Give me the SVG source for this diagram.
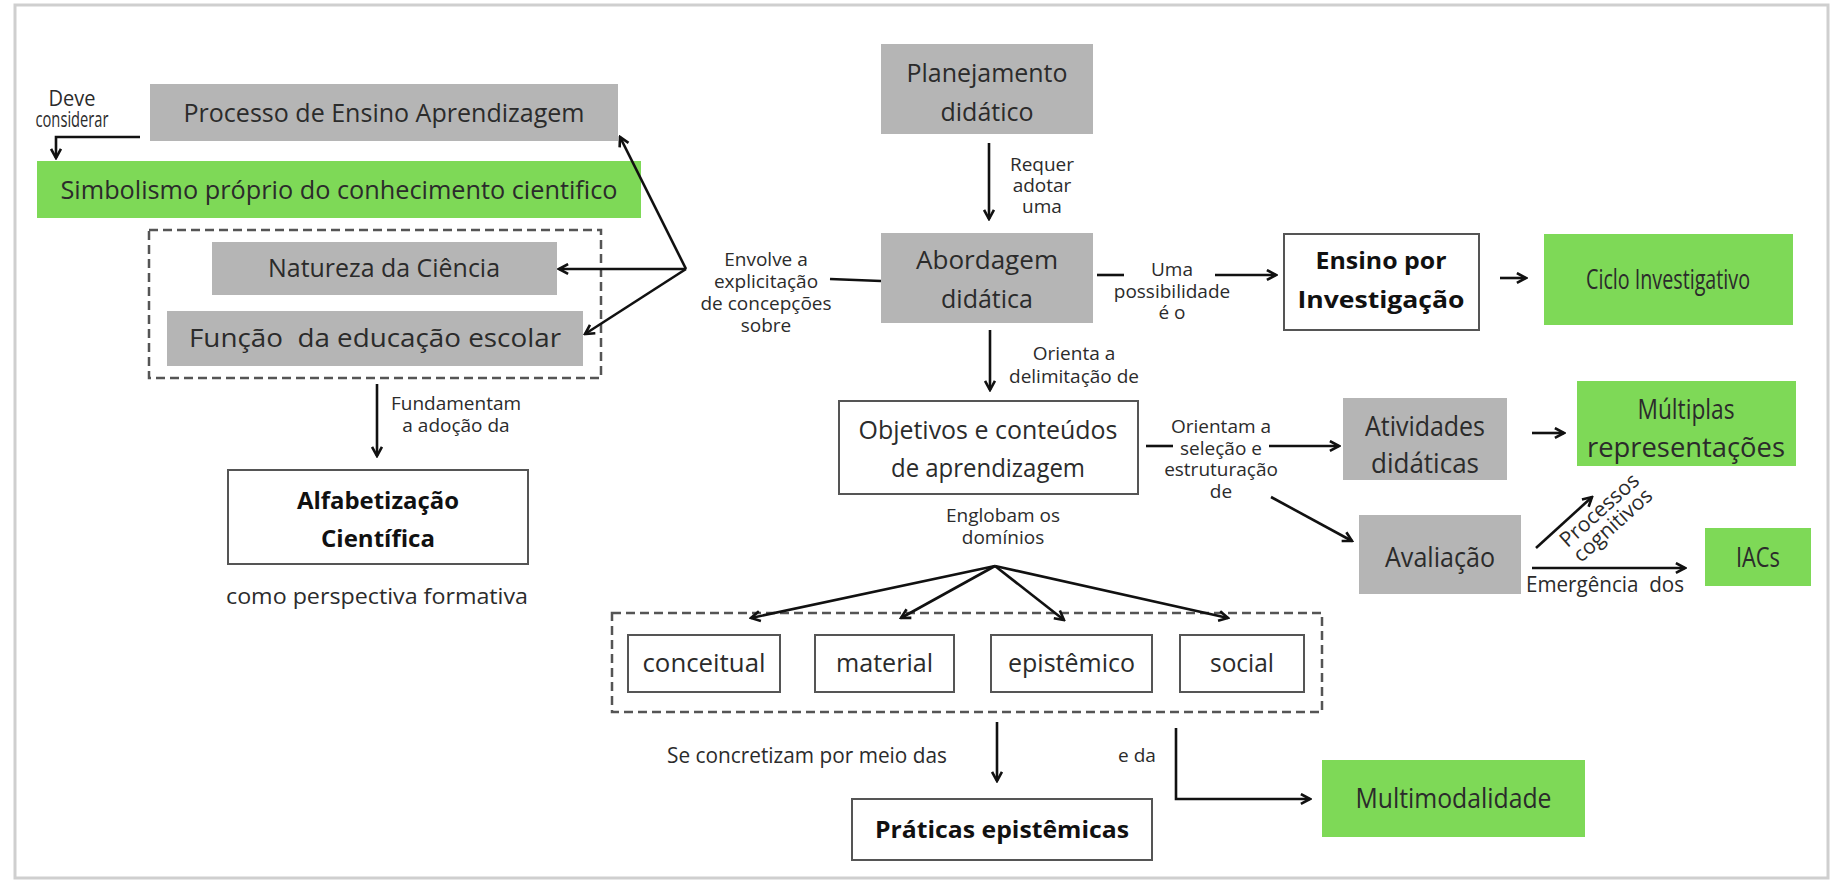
<svg xmlns="http://www.w3.org/2000/svg" width="1834" height="885" viewBox="0 0 1834 885">
<style>
text{font-family:"Open Sans","Noto Sans","Liberation Sans",sans-serif;fill:#2b2b2b;text-anchor:middle}
.n{font-size:25px}
.k{font-size:27px}
.b{font-size:24px;font-weight:bold;fill:#111}
.l{font-size:19px}
.lk{font-size:21px}
.gray{fill:#b5b5b5}
.green{fill:#7ed957}
.white{fill:#fff;stroke:#555;stroke-width:2}
.dash{fill:none;stroke:#555;stroke-width:2.5;stroke-dasharray:9 5}
.c path{fill:none;stroke:#111;stroke-width:2.6}
.pre{white-space:pre}
</style>
<defs>
<marker id="ah" viewBox="0 0 10 10" refX="8.5" refY="5" markerWidth="13" markerHeight="13" markerUnits="userSpaceOnUse" orient="auto">
<path d="M1.5,1.2 L8.5,5 L1.5,8.8" fill="none" stroke="#111" stroke-width="2"/>
</marker>
</defs>
<rect x="15" y="5" width="1813" height="873" fill="#fff" stroke="#cfcfcf" stroke-width="3"/>

<g id="processo"><rect class="gray" x="150" y="84" width="468" height="57"/><text class="n" x="384" y="122" textLength="401" lengthAdjust="spacingAndGlyphs">Processo de Ensino Aprendizagem</text></g>
<g id="simbolismo"><rect class="green" x="37" y="161" width="604" height="57"/><text class="n" x="339" y="199" textLength="557" lengthAdjust="spacingAndGlyphs">Simbolismo próprio do conhecimento cientifico</text></g>
<g id="grupo-concepcoes"><rect class="dash" x="149" y="230" width="452" height="148"/></g>
<g id="natureza"><rect class="gray" x="212" y="242" width="345" height="53"/><text class="n" x="384" y="277" textLength="232" lengthAdjust="spacingAndGlyphs">Natureza da Ciência</text></g>
<g id="funcao"><rect class="gray" x="167" y="311" width="416" height="55"/><text class="n pre" x="375" y="347" textLength="372" lengthAdjust="spacingAndGlyphs">Função  da educação escolar</text></g>
<g id="alfabetizacao"><rect class="white" x="228" y="470" width="300" height="94"/><text class="b" x="378" y="509" textLength="162" lengthAdjust="spacingAndGlyphs">Alfabetização</text><text class="b" x="378" y="547" textLength="114" lengthAdjust="spacingAndGlyphs">Científica</text></g>
<g id="perspectiva"><text style="font-size:22px" x="377" y="604" textLength="302" lengthAdjust="spacingAndGlyphs">como perspectiva formativa</text></g>

<g id="planejamento"><rect class="gray" x="881" y="44" width="212" height="90"/><text class="n" x="987" y="82" textLength="161" lengthAdjust="spacingAndGlyphs">Planejamento</text><text class="n" x="987" y="121">didático</text></g>
<g id="abordagem"><rect class="gray" x="881" y="233" width="212" height="90"/><text class="n" x="987" y="269" textLength="142" lengthAdjust="spacingAndGlyphs">Abordagem</text><text class="n" x="987" y="308">didática</text></g>
<g id="ensino"><rect class="white" x="1284" y="234" width="195" height="96"/><text class="b" x="1381" y="269" textLength="131" lengthAdjust="spacingAndGlyphs">Ensino por</text><text class="b" x="1381" y="308" textLength="167" lengthAdjust="spacingAndGlyphs">Investigação</text></g>
<g id="ciclo"><rect class="green" x="1544" y="234" width="249" height="91"/><text class="k" x="1668" y="289" textLength="164" lengthAdjust="spacingAndGlyphs">Ciclo Investigativo</text></g>
<g id="objetivos"><rect class="white" x="839" y="401" width="299" height="93"/><text class="n" x="988" y="439" textLength="259" lengthAdjust="spacingAndGlyphs">Objetivos e conteúdos</text><text class="n" x="988" y="477" textLength="194" lengthAdjust="spacingAndGlyphs">de aprendizagem</text></g>
<g id="atividades"><rect class="gray" x="1343" y="398" width="164" height="82"/><text class="k" x="1425" y="436" textLength="120" lengthAdjust="spacingAndGlyphs">Atividades</text><text class="k" x="1425" y="473" textLength="108" lengthAdjust="spacingAndGlyphs">didáticas</text></g>
<g id="multiplas"><rect class="green" x="1577" y="381" width="219" height="85"/><text class="k" x="1686" y="419" textLength="97" lengthAdjust="spacingAndGlyphs">Múltiplas</text><text class="k" x="1686" y="457" textLength="198" lengthAdjust="spacingAndGlyphs">representações</text></g>
<g id="avaliacao"><rect class="gray" x="1359" y="515" width="162" height="79"/><text class="k" x="1440" y="567" textLength="110" lengthAdjust="spacingAndGlyphs">Avaliação</text></g>
<g id="iacs"><rect class="green" x="1705" y="528" width="106" height="58"/><text class="k" x="1758" y="567" textLength="44" lengthAdjust="spacingAndGlyphs">IACs</text></g>
<g id="dominios"><rect class="dash" x="612" y="613" width="710" height="99"/></g>
<g id="conceitual"><rect class="white" x="628" y="635" width="152" height="57"/><text class="n" x="704" y="672" textLength="123" lengthAdjust="spacingAndGlyphs">conceitual</text></g>
<g id="material"><rect class="white" x="815" y="635" width="139" height="57"/><text class="n" x="884.5" y="672" textLength="97" lengthAdjust="spacingAndGlyphs">material</text></g>
<g id="epistemico"><rect class="white" x="991" y="635" width="161" height="57"/><text class="n" x="1071.5" y="672" textLength="127" lengthAdjust="spacingAndGlyphs">epistêmico</text></g>
<g id="social"><rect class="white" x="1180" y="635" width="124" height="57"/><text class="n" x="1242" y="672" textLength="64" lengthAdjust="spacingAndGlyphs">social</text></g>
<g id="praticas"><rect class="white" x="852" y="799" width="300" height="61"/><text class="b" x="1002" y="838" textLength="254" lengthAdjust="spacingAndGlyphs">Práticas epistêmicas</text></g>
<g id="multimodalidade"><rect class="green" x="1322" y="760" width="263" height="77"/><text class="k" x="1453.5" y="808" textLength="196" lengthAdjust="spacingAndGlyphs">Multimodalidade</text></g>

<g id="connectors" class="c">
<path d="M140,137 H56 V158" marker-end="url(#ah)"/>
<path d="M686,269 L620,137" marker-end="url(#ah)"/>
<path d="M686,269 L559,269" marker-end="url(#ah)"/>
<path d="M686,269 L585,334" marker-end="url(#ah)"/>
<path d="M830,279 L881,281"/>
<path d="M377,384 V456" marker-end="url(#ah)"/>
<path d="M989,143 V219" marker-end="url(#ah)"/>
<path d="M990,330 V390" marker-end="url(#ah)"/>
<path d="M1097,275 H1124"/>
<path d="M1215,275 H1276" marker-end="url(#ah)"/>
<path d="M1500,278 H1526" marker-end="url(#ah)"/>
<path d="M1146,446 H1173"/>
<path d="M1269,446 H1339" marker-end="url(#ah)"/>
<path d="M1271,497 L1352,541" marker-end="url(#ah)"/>
<path d="M1532,433 H1564" marker-end="url(#ah)"/>
<path d="M1536,548 L1592,497" marker-end="url(#ah)"/>
<path d="M1532,568 H1685" marker-end="url(#ah)"/>
<path d="M995,566 L751,618" marker-end="url(#ah)"/>
<path d="M995,566 L901,618" marker-end="url(#ah)"/>
<path d="M995,566 L1064,620" marker-end="url(#ah)"/>
<path d="M995,566 L1228,618" marker-end="url(#ah)"/>
<path d="M997,722 V781" marker-end="url(#ah)"/>
<path d="M1176,728 V799 H1310" marker-end="url(#ah)"/>
</g>

<g id="labels">
<text class="lk" x="72" y="106" textLength="47" lengthAdjust="spacingAndGlyphs">Deve</text>
<text class="lk" x="72" y="127" textLength="73" lengthAdjust="spacingAndGlyphs">considerar</text>
<text class="l" x="766" y="266">Envolve a</text>
<text class="l" x="766" y="288">explicitação</text>
<text class="l" x="766" y="310">de concepções</text>
<text class="l" x="766" y="332">sobre</text>
<text class="l" x="456" y="410">Fundamentam</text>
<text class="l" x="456" y="432">a adoção da</text>
<text class="l" x="1042" y="171">Requer</text>
<text class="l" x="1042" y="192">adotar</text>
<text class="l" x="1042" y="213">uma</text>
<text class="l" x="1172" y="276">Uma</text>
<text class="l" x="1172" y="298">possibilidade</text>
<text class="l" x="1172" y="319">é o</text>
<text class="l" x="1074" y="360">Orienta a</text>
<text class="l" x="1074" y="383">delimitação de</text>
<text class="l" x="1003" y="522">Englobam os</text>
<text class="l" x="1003" y="544">domínios</text>
<text class="l" x="1221" y="433">Orientam a</text>
<text class="l" x="1221" y="455">seleção e</text>
<text class="l" x="1221" y="476">estruturação</text>
<text class="l" x="1221" y="498">de</text>
<text class="lk" x="807" y="763" textLength="280" lengthAdjust="spacingAndGlyphs">Se concretizam por meio das</text>
<text class="l" x="1137" y="762">e da</text>
<text class="lk pre" x="1605" y="592" textLength="158" lengthAdjust="spacingAndGlyphs">Emergência  dos</text>
<g transform="translate(1600,511) rotate(-42)"><text class="lk" x="0" y="6">Processos</text><text class="lk" x="0" y="26">cognitivos</text></g>
</g>
</svg>
